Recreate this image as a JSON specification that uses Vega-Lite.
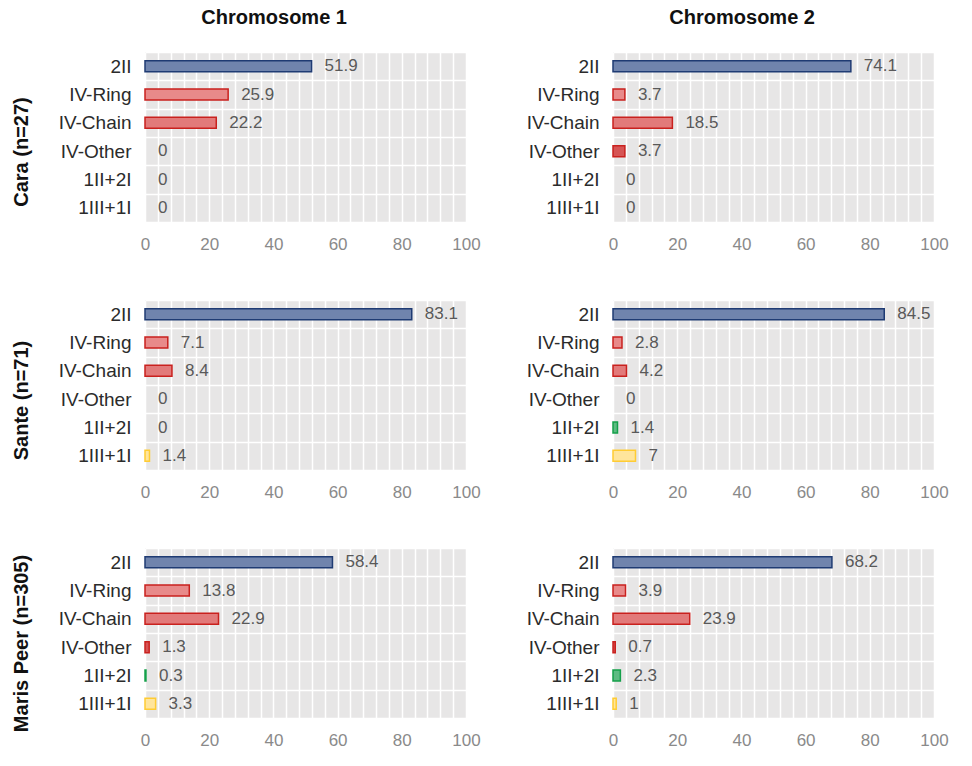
{
  "$schema": "https://vega.github.io/schema/vega-lite/v6.json",
  "padding": {"left": 12, "top": 8, "right": 5, "bottom": 5},
  "data": {"values": [
    {"cultivar": "Cara", "chrom": "1", "cfg": "2II", "v": 51.9},
    {"cultivar": "Cara", "chrom": "1", "cfg": "IV-Ring", "v": 25.9},
    {"cultivar": "Cara", "chrom": "1", "cfg": "IV-Chain", "v": 22.2},
    {"cultivar": "Cara", "chrom": "1", "cfg": "IV-Other", "v": 0},
    {"cultivar": "Cara", "chrom": "1", "cfg": "1II+2I", "v": 0},
    {"cultivar": "Cara", "chrom": "1", "cfg": "1III+1I", "v": 0},
    {"cultivar": "Cara", "chrom": "2", "cfg": "2II", "v": 74.1},
    {"cultivar": "Cara", "chrom": "2", "cfg": "IV-Ring", "v": 3.7},
    {"cultivar": "Cara", "chrom": "2", "cfg": "IV-Chain", "v": 18.5},
    {"cultivar": "Cara", "chrom": "2", "cfg": "IV-Other", "v": 3.7},
    {"cultivar": "Cara", "chrom": "2", "cfg": "1II+2I", "v": 0},
    {"cultivar": "Cara", "chrom": "2", "cfg": "1III+1I", "v": 0},
    {"cultivar": "Sante", "chrom": "1", "cfg": "2II", "v": 83.1},
    {"cultivar": "Sante", "chrom": "1", "cfg": "IV-Ring", "v": 7.1},
    {"cultivar": "Sante", "chrom": "1", "cfg": "IV-Chain", "v": 8.4},
    {"cultivar": "Sante", "chrom": "1", "cfg": "IV-Other", "v": 0},
    {"cultivar": "Sante", "chrom": "1", "cfg": "1II+2I", "v": 0},
    {"cultivar": "Sante", "chrom": "1", "cfg": "1III+1I", "v": 1.4},
    {"cultivar": "Sante", "chrom": "2", "cfg": "2II", "v": 84.5},
    {"cultivar": "Sante", "chrom": "2", "cfg": "IV-Ring", "v": 2.8},
    {"cultivar": "Sante", "chrom": "2", "cfg": "IV-Chain", "v": 4.2},
    {"cultivar": "Sante", "chrom": "2", "cfg": "IV-Other", "v": 0},
    {"cultivar": "Sante", "chrom": "2", "cfg": "1II+2I", "v": 1.4},
    {"cultivar": "Sante", "chrom": "2", "cfg": "1III+1I", "v": 7},
    {"cultivar": "Maris Peer", "chrom": "1", "cfg": "2II", "v": 58.4},
    {"cultivar": "Maris Peer", "chrom": "1", "cfg": "IV-Ring", "v": 13.8},
    {"cultivar": "Maris Peer", "chrom": "1", "cfg": "IV-Chain", "v": 22.9},
    {"cultivar": "Maris Peer", "chrom": "1", "cfg": "IV-Other", "v": 1.3},
    {"cultivar": "Maris Peer", "chrom": "1", "cfg": "1II+2I", "v": 0.3},
    {"cultivar": "Maris Peer", "chrom": "1", "cfg": "1III+1I", "v": 3.3},
    {"cultivar": "Maris Peer", "chrom": "2", "cfg": "2II", "v": 68.2},
    {"cultivar": "Maris Peer", "chrom": "2", "cfg": "IV-Ring", "v": 3.9},
    {"cultivar": "Maris Peer", "chrom": "2", "cfg": "IV-Chain", "v": 23.9},
    {"cultivar": "Maris Peer", "chrom": "2", "cfg": "IV-Other", "v": 0.7},
    {"cultivar": "Maris Peer", "chrom": "2", "cfg": "1II+2I", "v": 2.3},
    {"cultivar": "Maris Peer", "chrom": "2", "cfg": "1III+1I", "v": 1}
  ]},
  "config": {
    "font": "Liberation Sans",
    "view": {"fill": "#e7e6e6", "stroke": null},
    "title": {"fontSize": 20, "fontWeight": "bold", "color": "#111111", "font": "Liberation Sans"},
    "axisX": {"grid": true, "gridColor": "#ffffff", "gridWidth": 1.5, "domain": false, "ticks": false, "labelFontSize": 17, "labelColor": "#8a8a8a", "labelPadding": 14, "labelFlush": false, "labelOverlap": false, "title": null},
    "axisY": {"grid": true, "gridColor": "#ffffff", "gridWidth": 1.5, "domain": false, "ticks": false, "labelFontSize": 19, "labelColor": "#2b2b2b", "labelPadding": 14, "title": null}
  },
  "spacing": 39,
  "vconcat": [
    {
      "title": {"text": "Cara (n=27)", "orient": "left", "offset": 26, "anchor": "middle", "dx": -22},
      "spacing": 45,
      "hconcat": [
        {
          "title": {"text": "Chromosome 1", "offset": 15, "frame": "bounds", "dx": 5},
          "width": 321, "height": 170,
          "transform": [{"filter": "datum.cultivar === 'Cara' && datum.chrom === '1'"}],
          "encoding": {
            "y": {"field": "cfg", "type": "nominal", "scale": {"domain": ["2II", "IV-Ring", "IV-Chain", "IV-Other", "1II+2I", "1III+1I"], "paddingInner": 0, "paddingOuter": 0}, "axis": {"tickBand": "extent"}},
            "x": {"field": "v", "type": "quantitative", "scale": {"domain": [0, 100]}, "axis": {"values": [0,4,8,12,16,20,24,28,32,36,40,44,48,52,56,60,64,68,72,76,80,84,88,92,96,100], "labelExpr": "datum.value % 20 === 0 ? datum.label : ''"}}
          },
          "layer": [
            {"transform": [{"filter": "datum.v > 0"}], "mark": {"type": "bar", "size": 11, "strokeWidth": 1.5},
             "encoding": {
               "fill": {"field": "cfg", "type": "nominal", "legend": null, "scale": {"domain": ["2II", "IV-Ring", "IV-Chain", "IV-Other", "1II+2I", "1III+1I"], "range": ["#7084ad", "#e88a8a", "#e27a7a", "#d65454", "#5dbb82", "#ffe59c"]}},
               "stroke": {"field": "cfg", "type": "nominal", "legend": null, "scale": {"domain": ["2II", "IV-Ring", "IV-Chain", "IV-Other", "1II+2I", "1III+1I"], "range": ["#1f3b73", "#c9211e", "#c9211e", "#c9211e", "#14a04a", "#ffcc33"]}}
             }},
            {"mark": {"type": "text", "align": "left", "baseline": "middle", "dx": 13, "fontSize": 17, "color": "#595959"},
             "encoding": {"text": {"field": "v", "type": "quantitative", "format": "~g"}}}
          ]
        },
        {
          "title": {"text": "Chromosome 2", "offset": 15, "frame": "bounds", "dx": 5},
          "width": 321, "height": 170,
          "transform": [{"filter": "datum.cultivar === 'Cara' && datum.chrom === '2'"}],
          "encoding": {
            "y": {"field": "cfg", "type": "nominal", "scale": {"domain": ["2II", "IV-Ring", "IV-Chain", "IV-Other", "1II+2I", "1III+1I"], "paddingInner": 0, "paddingOuter": 0}, "axis": {"tickBand": "extent"}},
            "x": {"field": "v", "type": "quantitative", "scale": {"domain": [0, 100]}, "axis": {"values": [0,4,8,12,16,20,24,28,32,36,40,44,48,52,56,60,64,68,72,76,80,84,88,92,96,100], "labelExpr": "datum.value % 20 === 0 ? datum.label : ''"}}
          },
          "layer": [
            {"transform": [{"filter": "datum.v > 0"}], "mark": {"type": "bar", "size": 11, "strokeWidth": 1.5},
             "encoding": {
               "fill": {"field": "cfg", "type": "nominal", "legend": null, "scale": {"domain": ["2II", "IV-Ring", "IV-Chain", "IV-Other", "1II+2I", "1III+1I"], "range": ["#7084ad", "#e88a8a", "#e27a7a", "#d65454", "#5dbb82", "#ffe59c"]}},
               "stroke": {"field": "cfg", "type": "nominal", "legend": null, "scale": {"domain": ["2II", "IV-Ring", "IV-Chain", "IV-Other", "1II+2I", "1III+1I"], "range": ["#1f3b73", "#c9211e", "#c9211e", "#c9211e", "#14a04a", "#ffcc33"]}}
             }},
            {"mark": {"type": "text", "align": "left", "baseline": "middle", "dx": 13, "fontSize": 17, "color": "#595959"},
             "encoding": {"text": {"field": "v", "type": "quantitative", "format": "~g"}}}
          ]
        }
      ]
    },
    {
      "title": {"text": "Sante (n=71)", "orient": "left", "offset": 26, "anchor": "middle", "dx": -5},
      "spacing": 45,
      "hconcat": [
        {
          "width": 321, "height": 170,
          "transform": [{"filter": "datum.cultivar === 'Sante' && datum.chrom === '1'"}],
          "encoding": {
            "y": {"field": "cfg", "type": "nominal", "scale": {"domain": ["2II", "IV-Ring", "IV-Chain", "IV-Other", "1II+2I", "1III+1I"], "paddingInner": 0, "paddingOuter": 0}, "axis": {"tickBand": "extent"}},
            "x": {"field": "v", "type": "quantitative", "scale": {"domain": [0, 100]}, "axis": {"values": [0,4,8,12,16,20,24,28,32,36,40,44,48,52,56,60,64,68,72,76,80,84,88,92,96,100], "labelExpr": "datum.value % 20 === 0 ? datum.label : ''"}}
          },
          "layer": [
            {"transform": [{"filter": "datum.v > 0"}], "mark": {"type": "bar", "size": 11, "strokeWidth": 1.5},
             "encoding": {
               "fill": {"field": "cfg", "type": "nominal", "legend": null, "scale": {"domain": ["2II", "IV-Ring", "IV-Chain", "IV-Other", "1II+2I", "1III+1I"], "range": ["#7084ad", "#e88a8a", "#e27a7a", "#d65454", "#5dbb82", "#ffe59c"]}},
               "stroke": {"field": "cfg", "type": "nominal", "legend": null, "scale": {"domain": ["2II", "IV-Ring", "IV-Chain", "IV-Other", "1II+2I", "1III+1I"], "range": ["#1f3b73", "#c9211e", "#c9211e", "#c9211e", "#14a04a", "#ffcc33"]}}
             }},
            {"mark": {"type": "text", "align": "left", "baseline": "middle", "dx": 13, "fontSize": 17, "color": "#595959"},
             "encoding": {"text": {"field": "v", "type": "quantitative", "format": "~g"}}}
          ]
        },
        {
          "width": 321, "height": 170,
          "transform": [{"filter": "datum.cultivar === 'Sante' && datum.chrom === '2'"}],
          "encoding": {
            "y": {"field": "cfg", "type": "nominal", "scale": {"domain": ["2II", "IV-Ring", "IV-Chain", "IV-Other", "1II+2I", "1III+1I"], "paddingInner": 0, "paddingOuter": 0}, "axis": {"tickBand": "extent"}},
            "x": {"field": "v", "type": "quantitative", "scale": {"domain": [0, 100]}, "axis": {"values": [0,4,8,12,16,20,24,28,32,36,40,44,48,52,56,60,64,68,72,76,80,84,88,92,96,100], "labelExpr": "datum.value % 20 === 0 ? datum.label : ''"}}
          },
          "layer": [
            {"transform": [{"filter": "datum.v > 0"}], "mark": {"type": "bar", "size": 11, "strokeWidth": 1.5},
             "encoding": {
               "fill": {"field": "cfg", "type": "nominal", "legend": null, "scale": {"domain": ["2II", "IV-Ring", "IV-Chain", "IV-Other", "1II+2I", "1III+1I"], "range": ["#7084ad", "#e88a8a", "#e27a7a", "#d65454", "#5dbb82", "#ffe59c"]}},
               "stroke": {"field": "cfg", "type": "nominal", "legend": null, "scale": {"domain": ["2II", "IV-Ring", "IV-Chain", "IV-Other", "1II+2I", "1III+1I"], "range": ["#1f3b73", "#c9211e", "#c9211e", "#c9211e", "#14a04a", "#ffcc33"]}}
             }},
            {"mark": {"type": "text", "align": "left", "baseline": "middle", "dx": 13, "fontSize": 17, "color": "#595959"},
             "encoding": {"text": {"field": "v", "type": "quantitative", "format": "~g"}}}
          ]
        }
      ]
    },
    {
      "title": {"text": "Maris Peer (n=305)", "orient": "left", "offset": 26, "anchor": "middle"},
      "spacing": 45,
      "hconcat": [
        {
          "width": 321, "height": 170,
          "transform": [{"filter": "datum.cultivar === 'Maris Peer' && datum.chrom === '1'"}],
          "encoding": {
            "y": {"field": "cfg", "type": "nominal", "scale": {"domain": ["2II", "IV-Ring", "IV-Chain", "IV-Other", "1II+2I", "1III+1I"], "paddingInner": 0, "paddingOuter": 0}, "axis": {"tickBand": "extent"}},
            "x": {"field": "v", "type": "quantitative", "scale": {"domain": [0, 100]}, "axis": {"values": [0,4,8,12,16,20,24,28,32,36,40,44,48,52,56,60,64,68,72,76,80,84,88,92,96,100], "labelExpr": "datum.value % 20 === 0 ? datum.label : ''"}}
          },
          "layer": [
            {"transform": [{"filter": "datum.v > 0"}], "mark": {"type": "bar", "size": 11, "strokeWidth": 1.5},
             "encoding": {
               "fill": {"field": "cfg", "type": "nominal", "legend": null, "scale": {"domain": ["2II", "IV-Ring", "IV-Chain", "IV-Other", "1II+2I", "1III+1I"], "range": ["#7084ad", "#e88a8a", "#e27a7a", "#d65454", "#5dbb82", "#ffe59c"]}},
               "stroke": {"field": "cfg", "type": "nominal", "legend": null, "scale": {"domain": ["2II", "IV-Ring", "IV-Chain", "IV-Other", "1II+2I", "1III+1I"], "range": ["#1f3b73", "#c9211e", "#c9211e", "#c9211e", "#14a04a", "#ffcc33"]}}
             }},
            {"mark": {"type": "text", "align": "left", "baseline": "middle", "dx": 13, "fontSize": 17, "color": "#595959"},
             "encoding": {"text": {"field": "v", "type": "quantitative", "format": "~g"}}}
          ]
        },
        {
          "width": 321, "height": 170,
          "transform": [{"filter": "datum.cultivar === 'Maris Peer' && datum.chrom === '2'"}],
          "encoding": {
            "y": {"field": "cfg", "type": "nominal", "scale": {"domain": ["2II", "IV-Ring", "IV-Chain", "IV-Other", "1II+2I", "1III+1I"], "paddingInner": 0, "paddingOuter": 0}, "axis": {"tickBand": "extent"}},
            "x": {"field": "v", "type": "quantitative", "scale": {"domain": [0, 100]}, "axis": {"values": [0,4,8,12,16,20,24,28,32,36,40,44,48,52,56,60,64,68,72,76,80,84,88,92,96,100], "labelExpr": "datum.value % 20 === 0 ? datum.label : ''"}}
          },
          "layer": [
            {"transform": [{"filter": "datum.v > 0"}], "mark": {"type": "bar", "size": 11, "strokeWidth": 1.5},
             "encoding": {
               "fill": {"field": "cfg", "type": "nominal", "legend": null, "scale": {"domain": ["2II", "IV-Ring", "IV-Chain", "IV-Other", "1II+2I", "1III+1I"], "range": ["#7084ad", "#e88a8a", "#e27a7a", "#d65454", "#5dbb82", "#ffe59c"]}},
               "stroke": {"field": "cfg", "type": "nominal", "legend": null, "scale": {"domain": ["2II", "IV-Ring", "IV-Chain", "IV-Other", "1II+2I", "1III+1I"], "range": ["#1f3b73", "#c9211e", "#c9211e", "#c9211e", "#14a04a", "#ffcc33"]}}
             }},
            {"mark": {"type": "text", "align": "left", "baseline": "middle", "dx": 13, "fontSize": 17, "color": "#595959"},
             "encoding": {"text": {"field": "v", "type": "quantitative", "format": "~g"}}}
          ]
        }
      ]
    }
  ]
}
